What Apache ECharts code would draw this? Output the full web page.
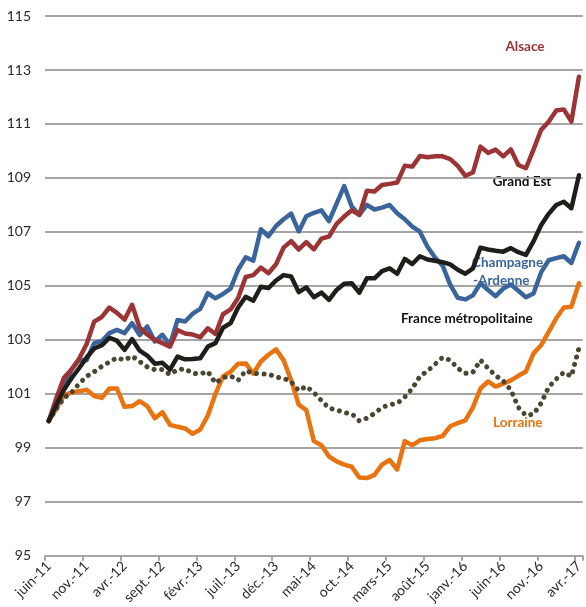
<!DOCTYPE html>
<html>
<head>
<meta charset="utf-8">
<script src="https://cdn.jsdelivr.net/npm/echarts@6/dist/echarts.min.js"></script>
<style>
html,body{margin:0;padding:0;background:#fff;}
#chart{width:586px;height:607px;}
</style>
</head>
<body>
<div id="chart"></div>
<script>
// Month abbreviations used for category labels
const monthNames = ['janv.', 'févr.', 'mars', 'avr.', 'mai', 'juin', 'juil.', 'août', 'sept.', 'oct.', 'nov.', 'déc.'];
const startMonth = 5; // juin
const startYear = 11;
const nMonths = 71;
const categories = [];
for (let i = 0; i < nMonths; i++) {
  const m = (startMonth + i) % 12;
  const y = startYear + Math.floor((startMonth + i) / 12);
  categories.push(monthNames[m] + '-' + y);
}
const yTickLabels = ['95', '97', '99', '101', '103', '105', '107', '109', '111', '113', '115'];

const alsace = [100, 100.85, 101.6, 101.9, 102.3, 102.85, 103.68, 103.85, 104.2, 104.0,
  103.75, 104.3, 103.45, 103.2, 103.0, 102.88, 102.75, 103.37, 103.24, 103.2,
  103.1, 103.43, 103.22, 103.95, 104.13, 104.55, 105.33, 105.4, 105.68, 105.47,
  105.8, 106.42, 106.66, 106.35, 106.62, 106.35, 106.75, 106.83, 107.3, 107.57,
  107.8, 107.63, 108.53, 108.5, 108.74, 108.78, 108.83, 109.45, 109.42, 109.81,
  109.77, 109.8, 109.8, 109.7, 109.45, 109.08, 109.2, 110.16, 109.93, 110.05,
  109.8, 110.06, 109.48, 109.36, 110.05, 110.78, 111.08, 111.5, 111.54, 111.09,
  112.75];

const grandEst = [100, 100.6, 101.15, 101.58, 101.95, 102.35, 102.68, 102.8, 103.08, 102.97,
  102.63, 103.03, 102.6, 102.42, 102.12, 102.15, 101.9, 102.38, 102.28, 102.29,
  102.32, 102.75, 102.88, 103.45, 103.62, 104.2, 104.6, 104.45, 104.97, 104.92,
  105.2, 105.4, 105.35, 104.77, 104.95, 104.58, 104.75, 104.48, 104.85, 105.08,
  105.1, 104.75, 105.28, 105.28, 105.55, 105.65, 105.45, 106.0, 105.81, 106.1,
  105.98, 105.93, 105.88, 105.8, 105.6, 105.45, 105.65, 106.42, 106.35, 106.3,
  106.27, 106.4, 106.25, 106.15, 106.65, 107.25, 107.67, 108.0, 108.12, 107.88,
  109.1];

const champagne = [100, 100.6, 101.3, 101.9, 102.26, 102.25, 102.88, 102.95, 103.25, 103.37,
  103.25, 103.62, 103.18, 103.5, 102.94, 103.19, 102.82, 103.74, 103.68, 103.97,
  104.15, 104.73, 104.54, 104.7, 104.9, 105.6, 106.06, 105.93, 107.1, 106.84,
  107.22, 107.47, 107.68, 107.02, 107.58, 107.71, 107.8, 107.4, 108.05, 108.7,
  107.94, 107.63, 108.0, 107.83, 107.9, 108.0, 107.69, 107.47, 107.2, 107.01,
  106.45, 106.05, 105.75, 105.05, 104.56, 104.5, 104.65, 105.1, 104.85, 104.62,
  104.9, 105.05, 104.82, 104.58, 104.72, 105.5, 105.95, 106.03, 106.1, 105.85,
  106.6];

const lorraine = [100, 100.45, 100.95, 101.05, 101.1, 101.15, 100.92, 100.85, 101.2, 101.2,
  100.52, 100.55, 100.73, 100.55, 100.1, 100.32, 99.85, 99.78, 99.72, 99.52,
  99.68, 100.2, 101.0, 101.65, 101.82, 102.12, 102.13, 101.75, 102.2, 102.45,
  102.65, 102.25, 101.5, 100.6, 100.4, 99.25, 99.1, 98.68, 98.5, 98.38,
  98.3, 97.9, 97.88, 98.0, 98.38, 98.55, 98.2, 99.25, 99.1, 99.28,
  99.33, 99.36, 99.44, 99.8, 99.92, 100.02, 100.5, 101.2, 101.46, 101.27,
  101.38, 101.5, 101.67, 101.83, 102.5, 102.8, 103.3, 103.8, 104.2, 104.23,
  105.1];

const france = [100, 100.45, 100.85, 101.05, 101.38, 101.65, 101.82, 102.02, 102.18, 102.34,
  102.25, 102.4, 102.2, 102.0, 101.9, 101.9, 101.72, 101.9, 101.93, 101.76,
  101.74, 101.83, 101.4, 101.6, 101.67, 101.5, 101.86, 101.76, 101.74, 101.74,
  101.62, 101.58, 101.45, 101.12, 101.28, 101.05, 100.75, 100.47, 100.41, 100.3,
  100.27, 100.0, 100.1, 100.28, 100.5, 100.6, 100.65, 100.88, 101.2, 101.65,
  101.85, 102.1, 102.35, 102.25, 101.95, 101.76, 101.8, 102.25, 101.95, 101.68,
  101.48, 101.15, 100.5, 100.2, 100.25, 100.65, 101.25, 101.55, 101.8, 101.65,
  102.7];

const C_RED = '#9c3436';
const C_BLUE = '#3a659c';
const C_BLACK = '#1e1e1a';
const C_ORANGE = '#e8730f';
const C_DOT = '#4a4631';
const GRID = '#a5a5a5';
const FONT = 'Lato, "Open Sans", sans-serif';

function lineSeries(name, data, color, extra) {
  return Object.assign({
    name: name,
    type: 'line',
    data: data,
    xAxisIndex: 0,
    yAxisIndex: 0,
    symbol: 'none',
    animation: false,
    lineStyle: { color: color, width: 4.5, cap: 'round', join: 'round' }
  }, extra || {});
}

const chart = echarts.init(document.getElementById('chart'), null, { renderer: 'canvas' });
chart.setOption({
  animation: false,
  backgroundColor: '#fff',
  grid: { left: 45, right: 1, top: 16, bottom: 51, containLabel: false },
  xAxis: [{
    type: 'category',
    data: categories,
    boundaryGap: true,
    axisLine: { show: true, lineStyle: { color: GRID, width: 2 } },
    axisTick: { show: true, interval: 4, length: 5, lineStyle: { color: GRID, width: 2 } },
    axisLabel: {
      interval: 4, rotate: 45, margin: 8,
      color: '#2b2b2b', fontSize: 14, fontFamily: FONT
    },
    splitLine: { show: false }
  }],
  yAxis: [{
    type: 'value',
    min: 95, max: 115,
    show: false,
    splitLine: { show: false }
  }, {
    type: 'category',
    data: yTickLabels,
    boundaryGap: false,
    position: 'left',
    axisLine: { show: false },
    axisTick: { show: false },
    axisLabel: { color: '#2b2b2b', fontSize: 14, fontFamily: FONT, margin: 14 },
    splitLine: { show: true, lineStyle: { color: GRID, width: 2 } }
  }],
  series: [
    lineSeries('Lorraine', lorraine, C_ORANGE),
    lineSeries('France métropolitaine', france, C_DOT, {
      lineStyle: { color: C_DOT, width: 5, cap: 'round', join: 'round', type: [0.01, 7.6] }
    }),
    lineSeries('Champagne-Ardenne', champagne, C_BLUE),
    lineSeries('Alsace', alsace, C_RED),
    lineSeries('Grand Est', grandEst, C_BLACK)
  ],
  graphic: [
    { type: 'text', x: 525, y: 47, style: { text: 'Alsace', fill: C_RED, font: 'bold 13.5px ' + FONT, textAlign: 'center', textVerticalAlign: 'middle' } },
    { type: 'text', x: 522, y: 182, style: { text: 'Grand Est', fill: '#111', font: 'bold 13.5px ' + FONT, textAlign: 'center', textVerticalAlign: 'middle' } },
    { type: 'text', x: 472, y: 263, style: { text: 'Champagne', fill: C_BLUE, font: 'bold 13.5px ' + FONT, textAlign: 'left', textVerticalAlign: 'middle' } },
    { type: 'text', x: 473, y: 281, style: { text: '-Ardenne', fill: C_BLUE, font: 'bold 13.5px ' + FONT, textAlign: 'left', textVerticalAlign: 'middle' } },
    { type: 'text', x: 401, y: 319, style: { text: 'France métropolitaine', fill: '#111', font: 'bold 13.5px ' + FONT, textAlign: 'left', textVerticalAlign: 'middle' } },
    { type: 'text', x: 493, y: 423, style: { text: 'Lorraine', fill: C_ORANGE, font: 'bold 13.5px ' + FONT, textAlign: 'left', textVerticalAlign: 'middle' } }
  ]
});
</script>
</body>
</html>
